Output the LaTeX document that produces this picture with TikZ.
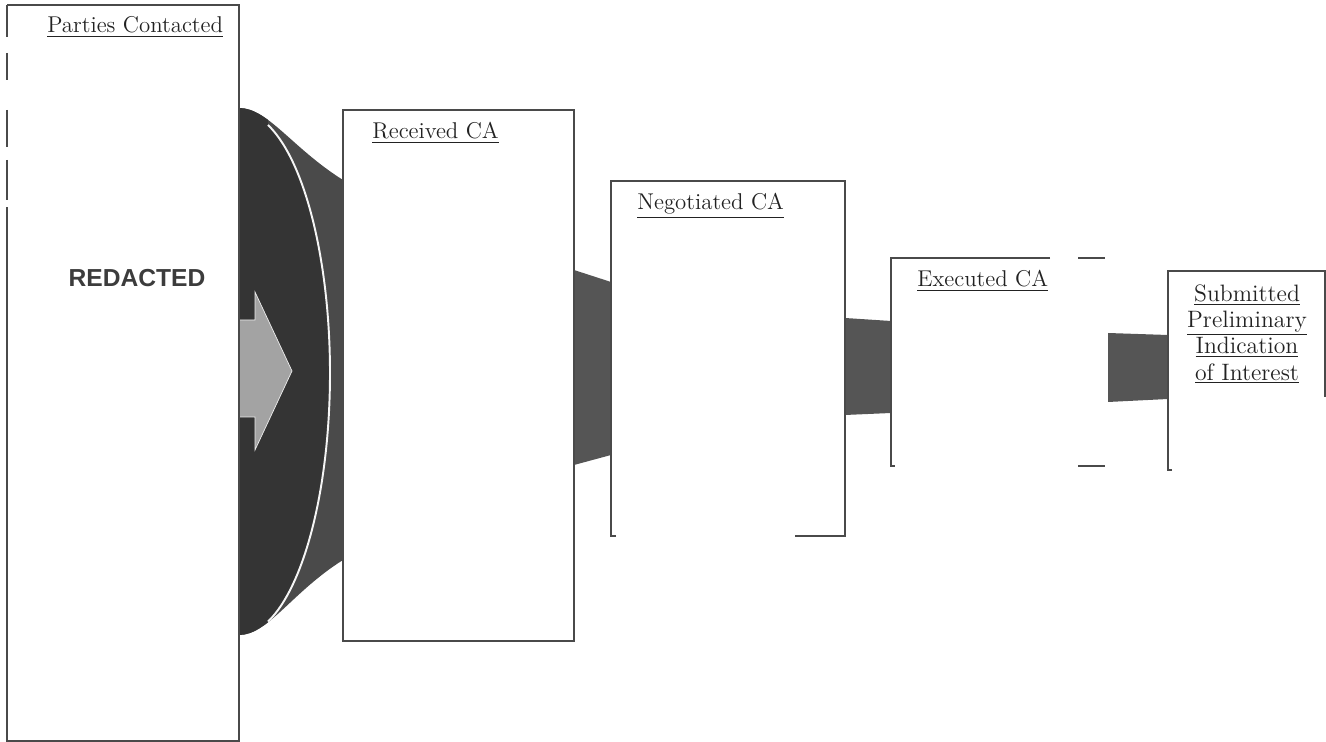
\documentclass[tikz,border=0pt]{standalone}
\usepackage{fontspec}
\usepackage{xcolor}
\usepackage{tikz}
\usetikzlibrary{calc,positioning}
\newfontfamily\stampfont{Liberation Sans}
\definecolor{rimc}{HTML}{4A4A4A}
\definecolor{inkc}{HTML}{222222}
\definecolor{darkfl}{HTML}{343434}
\definecolor{midfl}{HTML}{4A4A4A}
\definecolor{flowc}{HTML}{555555}
\definecolor{pale}{HTML}{A3A3A3}
\definecolor{stampc}{HTML}{3C3C3C}
\tikzset{
  stage/.style={anchor=north west,inner sep=0pt,outer sep=0pt},
  rim/.style={rimc,line width=0.75pt},
  ttl/.style={anchor=base west,inner sep=0pt,text=inkc,font=\fontsize{13}{15}\selectfont},
  flow/.style={fill=flowc}
}

\begin{document}
\begin{tikzpicture}[x=0.02cm,y=-0.02cm]
\useasboundingbox (0,0) rectangle (1326,742);
\node[stage,minimum width=232*0.02cm,minimum height=736*0.02cm] (parties) at (7,5) {};
\node[stage,minimum width=231*0.02cm,minimum height=531*0.02cm] (received) at (343,110) {};
\node[stage,minimum width=234*0.02cm,minimum height=355*0.02cm] (negotiated) at (611,181) {};
\node[stage,minimum width=214*0.02cm,minimum height=208*0.02cm] (executed) at (891,258) {};
\node[stage,minimum width=157*0.02cm,minimum height=199*0.02cm] (submitted) at (1168,271) {};
% big funnel
\fill[midfl] ($(parties.north east)+(0,103)$) .. controls +(29,0) and +(-51,-32) .. ($(received.north west)+(0,70)$)
  -- ($(received.south west)+(0,-81)$) .. controls +(-51,32) and +(29,0) .. ($(parties.north east)+(0,630)$) -- cycle;
\begin{scope}
\clip ($(parties.north east)+(0,103)$) .. controls +(29,0) and +(-51,-32) .. ($(received.north west)+(0,70)$)
  -- ($(received.south west)+(0,-81)$) .. controls +(-51,32) and +(29,0) .. ($(parties.north east)+(0,630)$) -- cycle;
\fill[darkfl] ($(parties.east)+(0,-373)$) -- ++(29,0) -- ($(parties.east)+(29,-248)$)
  arc[start angle=-71.4,end angle=71.4,x radius=91,y radius=262] -- ++(0,200) -- ++(-29,0) -- cycle;
\draw[white!92!gray,line width=1.1pt] ($(parties.east)+(29,-248)$) arc[start angle=-71.4,end angle=71.4,x radius=91,y radius=262];
\end{scope}
\fill[pale,draw=white!85!gray,line width=0.4pt] ($(parties.east)+(0,-53)$) -- ++(16,0) -- ++(0,-28) -- ++(37,79)
  -- ++(-37,79) -- ++(0,-33) -- ++(-16,0) -- cycle;
% narrow flows
\fill[flow] ($(received.north east)+(0,160)$) -- ($(negotiated.north west)+(0,101)$)
  -- ($(negotiated.south west)+(0,-81)$) -- ($(received.south east)+(0,-176)$) -- cycle;
\fill[flow] ($(negotiated.north east)+(0,137)$) -- ($(executed.north west)+(0,63)$)
  -- ($(executed.south west)+(0,-53)$) -- ($(negotiated.south east)+(0,-121)$) -- cycle;
\fill[flow] ($(executed.north east)+(3,75)$) -- ($(submitted.north west)+(0,64)$)
  -- ($(submitted.south west)+(0,-71)$) -- ($(executed.south east)+(3,-64)$) -- cycle;
% box rims
\draw[rim] (parties.north west) -- (parties.north east) -- (parties.south east) -- (parties.south west) -- ++(0,-534);
\foreach \a/\b in {5/37,53/80,110/147,160/200}{\draw[rim] (7,\a) -- (7,\b);}
\draw[rim] (received.north west) rectangle (received.south east);
\draw[rim] ($(negotiated.south west)+(5,0)$) -- (negotiated.south west) -- (negotiated.north west)
  -- (negotiated.north east) -- (negotiated.south east) -- ++(-50,0);
\draw[rim] ($(executed.north west)+(159,0)$) -- (executed.north west) -- (executed.south west) -- ++(4,0);
\draw[rim] ($(executed.north east)+(-27,0)$) -- (executed.north east);
\draw[rim] ($(executed.south east)+(-27,0)$) -- (executed.south east);
\draw[rim] ($(submitted.south west)+(4,0)$) -- (submitted.south west) -- (submitted.north west)
  -- (submitted.north east) -- ++(0,126);
% labels
\node[ttl] (partiesttl) at (47,33) {\underline{Parties Contacted}};
\node[ttl] (receivedttl) at (372,139) {\underline{Received CA}};
\node[ttl] (negotiatedttl) at (637,210) {\underline{Negotiated CA}};
\node[ttl] (executedttl) at (917,287) {\underline{Executed CA}};
\node[anchor=north,inner sep=0pt,align=center,text=inkc,font=\fontsize{13.5}{15}\selectfont] (submittedttl) at (1247,284)
  {\underline{Submitted}\\\underline{Preliminary}\\\underline{Indication}\\\underline{of Interest}};
\node[inner sep=0pt,text=stampc,font=\stampfont\bfseries\fontsize{14}{16}\selectfont] (stamp) at (137,278) {REDACTED};
\end{tikzpicture}
\end{document}
